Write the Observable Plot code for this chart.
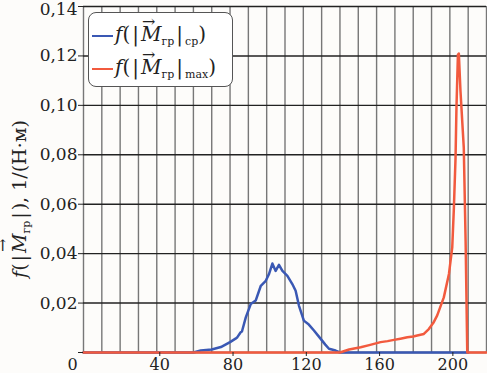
<!DOCTYPE html>
<html>
<head>
<meta charset="utf-8">
<script src="https://cdn.jsdelivr.net/npm/d3@7"></script>
<script src="https://cdn.jsdelivr.net/npm/@observablehq/plot@0.6"></script>
<style>
  html, body { margin: 0; padding: 0; background: #fdfcfa; }
  #wrap { position: relative; width: 487px; height: 373px; overflow: hidden; font-family: "DejaVu Serif", serif; color: #222; }
  #legend { position: absolute; left: 88px; top: 12px; width: 145px; height: 75px; border: 1.5px solid #555; border-radius: 8px; background: #fff; box-sizing: border-box; }
  .row { position: absolute; left: 3px; height: 30px; font-size: 20px; line-height: 30px; white-space: nowrap; }
  .swatch { display: inline-block; width: 21px; height: 0; border-top: 2.5px solid; vertical-align: middle; margin-right: 2px; }
  .vec { position: relative; font-style: italic; }
  .vec::after { content: "→"; position: absolute; left: 1px; top: -15px; font-size: 16px; font-style: normal; }
  sub { font-size: 11px; vertical-align: -4px; }
  .bar { font-style: normal; margin: 0 2px; }
  #ylabel { position: absolute; left: 20px; top: 199px; transform: translate(-50%, -50%) rotate(-90deg); font-size: 19px; white-space: nowrap; }
</style>
</head>
<body>
<div id="wrap">
  <div id="chart"></div>
  <div id="legend">
    <div class="row" style="top:6px"><span class="swatch" style="border-color:#3a58b4"></span><i>f</i>(<span class="bar">|</span><span class="vec">M</span><sub>гр</sub><span class="bar">|</span><sub>ср</sub>)</div>
    <div class="row" style="top:39px"><span class="swatch" style="border-color:#f25a3e"></span><i>f</i>(<span class="bar">|</span><span class="vec">M</span><sub>гр</sub><span class="bar">|</span><sub>max</sub>)</div>
  </div>
  <div id="ylabel"><i>f</i>(<span class="bar">|</span><span class="vec">M</span><sub>гр</sub><span class="bar">|</span>), 1/(Н·м)</div>
</div>
<script>
const xTicks = [0, 40, 80, 120, 160, 200];
const yTicks = [0, 0.02, 0.04, 0.06, 0.08, 0.10, 0.12, 0.14];
const xGrid = [0, 10, 20, 30, 40, 50, 60, 70, 80, 90, 100, 110, 120, 130, 140, 150, 160, 170, 180, 190, 200, 210, 220];

const blueX = [0, 60, 64, 70, 75, 77, 80, 83, 84, 85.8, 86.5, 88.6, 91.3, 94, 96.8, 99.5, 101.3, 103.1, 104.9, 106.7, 108.6, 111.3, 114, 115.8, 117.6, 120.3, 123, 125.8, 129.5, 132, 134, 137.6, 140, 210];
const blueY = [0, 0, 0.0008, 0.0012, 0.0022, 0.003, 0.0042, 0.0056, 0.0062, 0.0082, 0.0085, 0.0142, 0.0196, 0.021, 0.027, 0.029, 0.0318, 0.036, 0.033, 0.0355, 0.033, 0.031, 0.0277, 0.025, 0.019, 0.0129, 0.0113, 0.0089, 0.0055, 0.0032, 0.0015, 0.0008, 0, 0];

const redX = [0, 140, 145, 151.3, 156, 162.2, 166, 169.5, 173, 176.8, 180, 182.2, 185.8, 188.5, 191, 193.1, 196.7, 199.5, 201.3, 202.2, 203.1, 203.6, 204.4, 204.9, 205.8, 207.6, 208.6, 209.5, 220];
const redY = [0, 0, 0.0012, 0.0021, 0.003, 0.0042, 0.0046, 0.0051, 0.0056, 0.0062, 0.0065, 0.0069, 0.0075, 0.0095, 0.012, 0.015, 0.0223, 0.0318, 0.0425, 0.0586, 0.0788, 0.099, 0.1205, 0.121, 0.1057, 0.0828, 0.045, 0, 0];

const blue = blueX.map((x, i) => ({x, y: blueY[i]}));
const red = redX.map((x, i) => ({x, y: redY[i]}));

const fmt = d => d.toFixed(2).replace(".", ",");
const topTick = yTicks[yTicks.length - 1];

const chart = Plot.plot({
  width: 487,
  height: 373,
  marginLeft: 83,
  marginRight: 1,
  marginTop: 6,
  marginBottom: 21,
  x: {domain: [0, 220]},
  y: {domain: [0, 0.14]},
  style: {fontFamily: "DejaVu Serif, serif", fontSize: "17px", background: "#fdfcfa", color: "#222"},
  marks: [
    Plot.ruleX(xGrid, {stroke: "#777", strokeWidth: 1.4}),
    Plot.ruleY(yTicks, {stroke: "#222", strokeWidth: 1.4}),
    Plot.line(blue, {x: "x", y: "y", stroke: "#3a58b4", strokeWidth: 2.5}),
    Plot.line(red, {x: "x", y: "y", stroke: "#f25a3e", strokeWidth: 2.5}),
    Plot.axisY({ticks: yTicks, tickFormat: d => (d === 0 || d === topTick) ? "" : fmt(d), tickSize: 5, tickPadding: 1, label: null, fontSize: 17}),
    Plot.axisY({ticks: [topTick], tickFormat: fmt, tickSize: 0, tickPadding: 6, dy: 3, label: null, fontSize: 17}),
    Plot.axisX({ticks: xTicks.filter(d => d !== 0), tickSize: 4, tickPadding: 2, dx: 3, label: null, fontSize: 16}),
    Plot.axisX({ticks: [0], tickSize: 0, tickPadding: 6, dx: -11, label: null, fontSize: 16})
  ]
});
document.getElementById("chart").appendChild(chart);
</script>
</body>
</html>
